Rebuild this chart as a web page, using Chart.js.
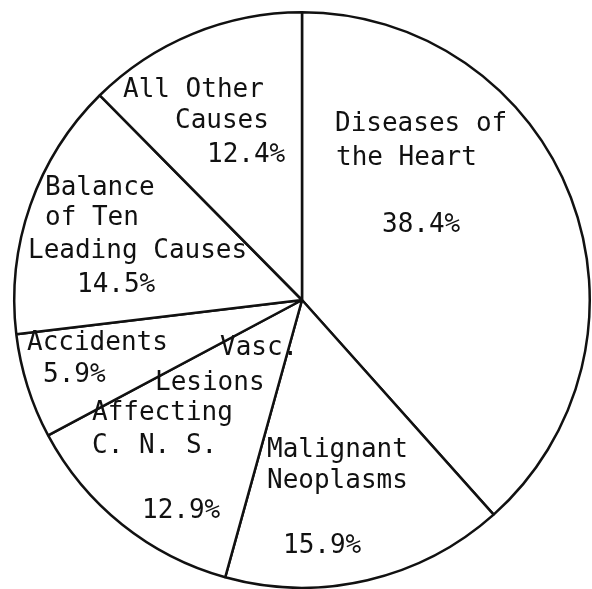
<!DOCTYPE html>
<html>
<head>
<meta charset="utf-8">
<script src="https://cdn.jsdelivr.net/npm/chart.js@4"></script>
<style>
  html, body { margin: 0; padding: 0; background: #fff; }
  #wrap { width: 592px; height: 589px; }
</style>
</head>
<body>
<div id="wrap"><canvas id="chart" width="592" height="589"></canvas></div>
<script>
// causes of death, share of total (%)
const causes = [
    'Diseases of the Heart',
    'Malignant Neoplasms',
    'Vasc. Lesions Affecting C. N. S.',
    'Accidents',
    'Balance of Ten Leading Causes',
    'All Other Causes',
];
const shares = [38.4, 15.9, 12.9, 5.9, 14.5, 12.4];

// how each label is broken into lines
const labelLines = [
    ['Diseases of', 'the Heart'],
    ['Malignant', 'Neoplasms'],
    ['Vasc.', 'Lesions', 'Affecting', 'C. N. S.'],
    ['Accidents'],
    ['Balance', 'of Ten', 'Leading Causes'],
    ['All Other', 'Causes'],
];

// text placement, offsets from pie centre: [left x, baseline y] per line, last entry is the percentage
const labelLayout = [
    [[33, -169], [34, -135], [80, -68]],
    [[-35, 157], [-35, 188], [-19, 253]],
    [[-82, 55], [-147, 90], [-210, 120], [-210, 153], [-160, 218]],
    [[-275, 50], [-259, 82]],
    [[-257, -105], [-257, -75], [-274, -42], [-225, -8]],
    [[-179, -203], [-127, -172], [-95, -138]],
];

const sliceText = {
    id: 'sliceText',
    afterDraw(chart) {
        const ctx = chart.ctx;
        const arcs = chart.getDatasetMeta(0).data;
        ctx.save();
        ctx.fillStyle = '#111';
        ctx.font = '26px "DejaVu Sans Mono", "Liberation Mono", monospace';
        ctx.textAlign = 'left';
        ctx.textBaseline = 'alphabetic';
        arcs.forEach((arc, i) => {
            const lines = labelLines[i].concat([shares[i].toFixed(1) + '%']);
            lines.forEach((txt, j) => {
                const pos = labelLayout[i][j];
                ctx.fillText(txt, arc.x + pos[0], arc.y + pos[1]);
            });
        });
        ctx.restore();
    },
};

const ctx = document.getElementById('chart').getContext('2d');
new Chart(ctx, {
    type: 'pie',
    data: {
        labels: causes,
        datasets: [{
            data: shares,
            backgroundColor: '#ffffff',
            borderColor: '#111111',
            borderWidth: 2.5,
        }],
    },
    options: {
        responsive: false,
        animation: false,
        layout: { padding: { left: 12, right: 0, top: 11, bottom: 0 } },
        plugins: {
            legend: { display: false },
            tooltip: { enabled: false },
        },
    },
    plugins: [sliceText],
});
</script>
</body>
</html>
